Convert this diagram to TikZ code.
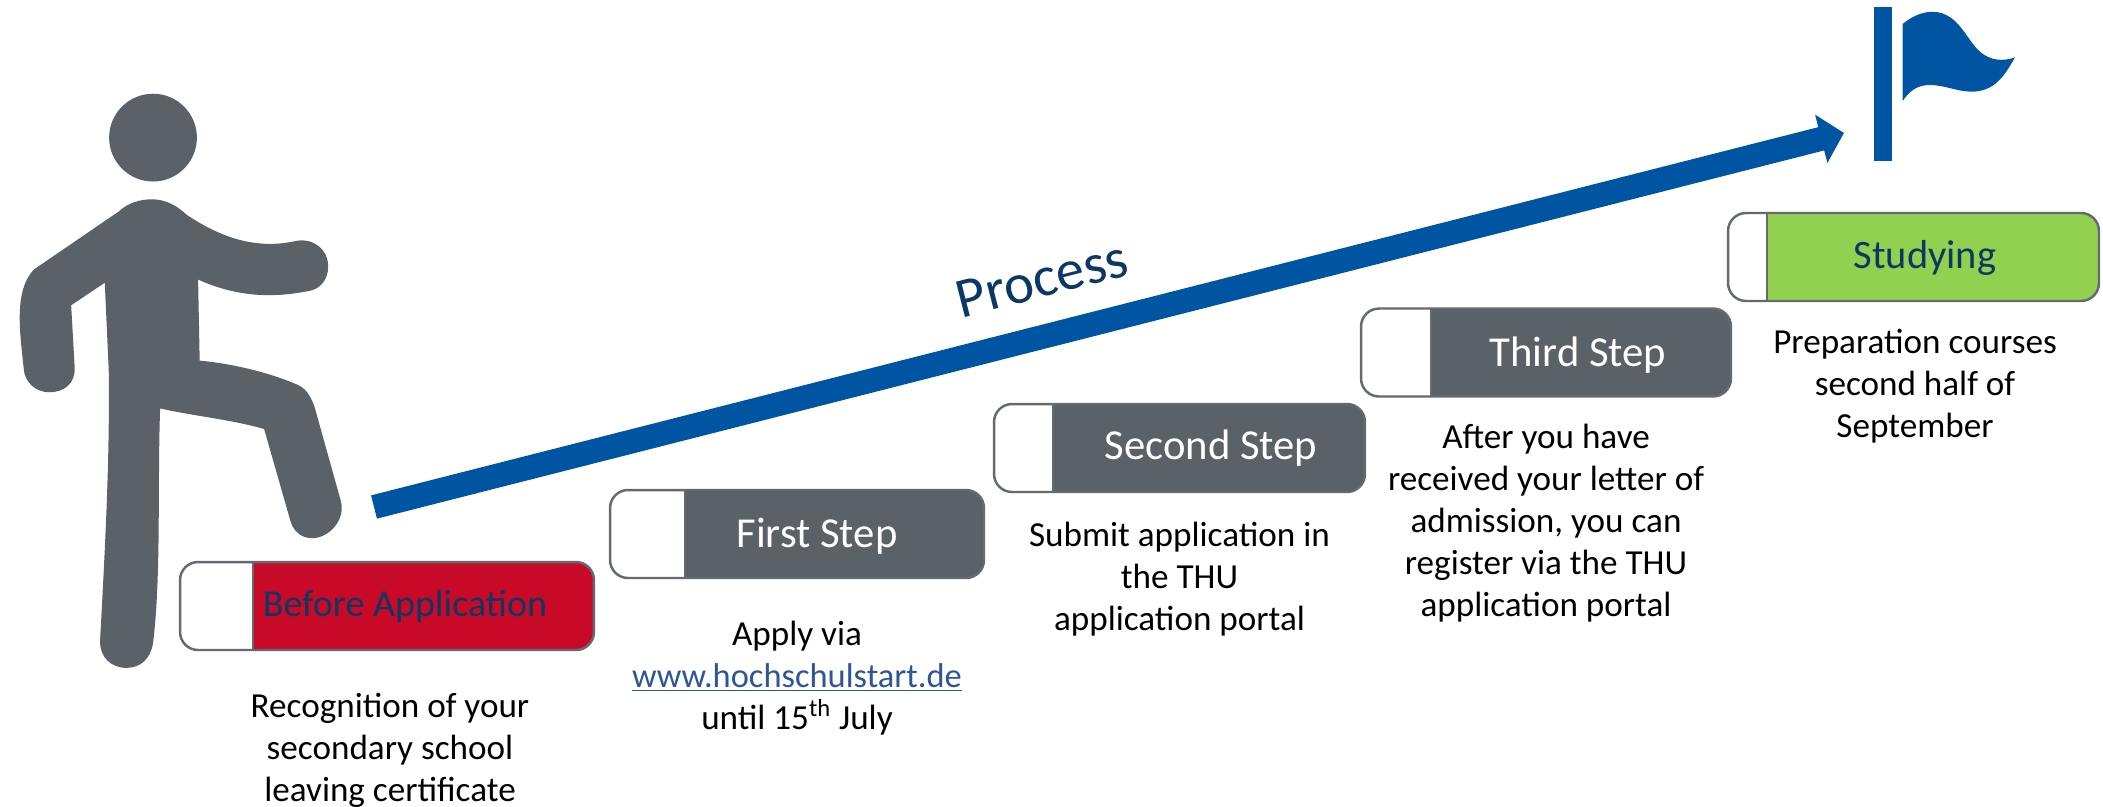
\documentclass[tikz,border=0pt]{standalone}
\usepackage{fontspec}
\setmainfont{Carlito}
\usetikzlibrary{arrows.meta, positioning}
\definecolor{FigGray}{RGB}{90, 97, 103}
\definecolor{EdgeGray}{RGB}{100, 106, 111}
\definecolor{ThuBlue}{RGB}{0, 85, 162}
\definecolor{NavyText}{RGB}{11, 56, 100}
\definecolor{ThuRed}{RGB}{200, 10, 40}
\definecolor{ThuGreen}{RGB}{146, 208, 80}
\definecolor{LinkBlue}{RGB}{47, 85, 151}
\begin{document}
\begin{tikzpicture}[
            x=0.02cm, y=-0.02cm,
            node distance=0.6cm,
            stepbox/.style 2 args={rectangle, rounded corners=0.36cm, draw=EdgeGray, fill=white, line width=1.4pt,
                        minimum height=1.76cm, inner sep=0pt, outer sep=0pt,
                        path picture={
                            \fill[#1, sharp corners] ([xshift=#2]path picture bounding box.south west) rectangle (path picture bounding box.north east);
                            \draw[EdgeGray, line width=1.4pt, sharp corners] ([xshift=#2]path picture bounding box.south west) -- ([xshift=#2]path picture bounding box.north west);
                        }},
            steplabel/.style={font=\fontsize{24.3}{29}\selectfont, inner sep=0pt},
            darklabel/.style={font=\fontsize{#1}{28}\selectfont, text=NavyText, inner sep=0pt},
            stepnote/.style={font=\fontsize{20}{23.9}\selectfont, align=center, inner sep=0pt},
            arrow/.style={-{Stealth[length=0.47cm, width=0.97cm, inset=0pt]}, line width=0.48cm, ThuBlue}
        ]
            \useasboundingbox (0,0) rectangle (2103,806);

            % Step boxes
            \node[stepbox={ThuRed}{1.46cm}, minimum width=8.28cm] (before) at (387,606) {};
            \node[stepbox={FigGray}{1.5cm}, minimum width=7.48cm] (first) at (797,534) {};
            \node[stepbox={FigGray}{1.18cm}, minimum width=7.42cm] (second) at (1179.5,448) {};
            \node[stepbox={FigGray}{1.4cm}, minimum width=7.4cm] (third) at (1546,352.5) {};
            \node[stepbox={ThuGreen}{0.78cm}, minimum width=7.42cm] (studying) at (1913.5,257) {};

            % Box labels
            \node[darklabel=21.6] (beforetext) at (405,606) {Before Application};
            \node[steplabel, text=white] (firsttext) at (817,536) {First Step};
            \node[steplabel, text=white] (secondtext) at (1211,448) {Second Step};
            \node[steplabel, text=white] (thirdtext) at (1578,355) {Third Step};
            \node[darklabel=23] (studyingtext) at (1925,258) {Studying};

            % Notes below the boxes
            \node[stepnote, below=0.86cm of before, xshift=0.06cm] (beforenote) {Recognition of your\\secondary school\\leaving certificate};
            \node[stepnote, below=0.85cm of first] (firstnote) {Apply via\\{\fontsize{19.6}{23.9}\selectfont\color{LinkBlue}\underline{www.hochschulstart.de}}\\until 15\textsuperscript{th} July};
            \node[stepnote, below=0.59cm of second] (secondnote) {Submit application in\\the THU\\application portal};
            \node[stepnote, below=0.55cm of third] (thirdnote) {After you have\\received your letter of\\admission, you can\\register via the THU\\application portal};
            \node[stepnote, below=0.56cm of studying, xshift=0.03cm] (studyingnote) {Preparation courses\\second half of\\September};

            % Process arrow
            \coordinate (tail) at (374,507);
            \coordinate (tip) at (1844,133);
            \draw[arrow] (tail) -- (tip);
            \node[rotate=14.3, text=NavyText, font=\fontsize{32.3}{38}\selectfont, inner sep=0pt] (process) at (1042,279) {Process};

            % Flag
            \fill[ThuBlue] (1874,7) rectangle (1892,161);
            \begin{scope}[shift={(1700,0)}, scale=0.3333]
                \fill[ThuBlue] (608,72) .. controls (640,45) and (680,30) .. (715,37)
                    .. controls (780,50) and (800,120) .. (840,155)
                    .. controls (870,182) and (910,185) .. (945,172)
                    .. controls (915,225) and (885,275) .. (815,275)
                    .. controls (770,275) and (735,255) .. (690,255)
                    .. controls (655,255) and (630,270) .. (608,303) -- cycle;
            \end{scope}

            % Walking figure
            \begin{scope}[shift={(0,70)}, scale=0.3954]
                \fill[FigGray] (387,171) circle (111);
                \fill[FigGray] (300,358) .. controls (325,335) and (355,327) .. (385,327)
                    .. controls (420,327) and (450,345) .. (472,366)
                    .. controls (560,425) and (650,455) .. (750,432)
                    .. controls (795,425) and (830,455) .. (830,497)
                    .. controls (830,530) and (810,553) .. (785,558)
                    .. controls (680,580) and (590,570) .. (501,530)
                    -- (505,735)
                    .. controls (590,743) and (680,765) .. (750,795)
                    .. controls (775,805) and (785,825) .. (795,850)
                    -- (862,1090)
                    .. controls (875,1140) and (830,1184) .. (790,1184)
                    .. controls (760,1184) and (740,1165) .. (733,1135)
                    -- (668,908)
                    .. controls (590,885) and (490,875) .. (405,856)
                    .. controls (398,1050) and (408,1280) .. (387,1450)
                    .. controls (380,1490) and (355,1512) .. (320,1512)
                    .. controls (280,1512) and (253,1485) .. (253,1445)
                    .. controls (265,1220) and (278,990) .. (275,760)
                    -- (265,538) -- (180,595) -- (189,755)
                    .. controls (190,790) and (165,815) .. (125,815)
                    .. controls (90,815) and (62,790) .. (60,755)
                    .. controls (50,660) and (35,560) .. (85,505)
                    -- cycle;
            \end{scope}
        \end{tikzpicture}
\end{document}
